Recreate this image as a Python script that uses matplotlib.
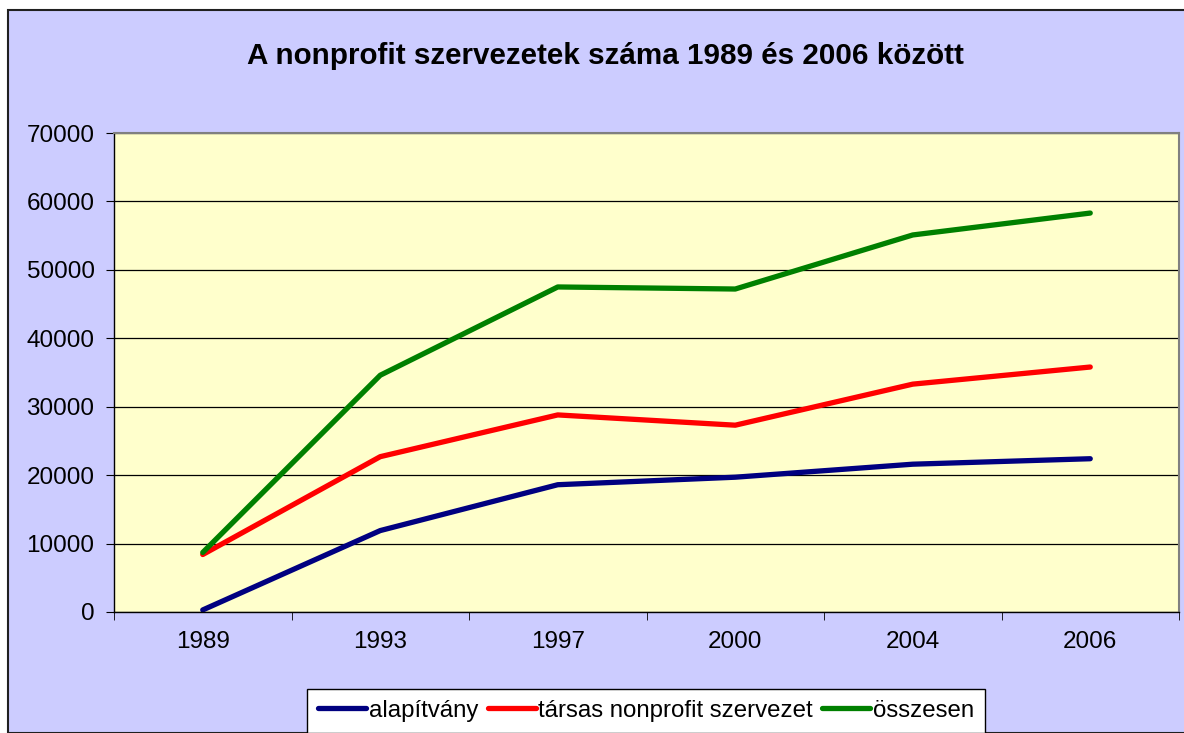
import numpy as np
import matplotlib
matplotlib.use("Agg")
import matplotlib.pyplot as plt
from matplotlib.patches import Rectangle

plt.rcParams['font.family'] = ['Liberation Sans', 'DejaVu Sans']

# adatok
evek = ['1989', '1993', '1997', '2000', '2004', '2006']
alapitvany = [300, 11900, 18600, 19700, 21600, 22400]
tarsas = [8400, 22700, 28800, 27300, 33300, 35800]
osszesen = [8700, 34600, 47500, 47200, 55100, 58300]

W, H = 1184, 733
fig = plt.figure(figsize=(W / 100, H / 100), dpi=100, facecolor='white')

# lila hatter kerettel
bg = Rectangle((8 / W, 0), 1 - 8 / W + 0.01, 1 - 10 / H, transform=fig.transFigure,
               facecolor='#CCCCFF', edgecolor='#202020', linewidth=1.5, zorder=-10)
fig.patches.append(bg)

ax = fig.add_axes([114 / W, (H - 612) / H, (1179 - 114) / W, (612 - 133) / H])
ax.set_facecolor('#FFFFCC')

x = np.arange(len(evek))
ax.plot(x, alapitvany, color='#000080', lw=3.8, label='alapítvány', solid_capstyle='round')
ax.plot(x, tarsas, color='#FF0000', lw=3.8, label='társas nonprofit szervezet', solid_capstyle='round')
ax.plot(x, osszesen, color='#008000', lw=3.8, label='összesen', solid_capstyle='round')

ax.set_xlim(-0.5, len(evek) - 0.5)
ax.set_ylim(0, 70000)
ax.set_yticks(np.arange(0, 70001, 10000))
ax.set_xticks(x)
ax.set_xticklabels(evek)
ax.set_xticks(np.arange(-0.5, len(evek), 1), minor=True)
ax.tick_params(axis='x', which='major', length=0, pad=14, labelsize=17.5)
ax.tick_params(axis='x', which='minor', length=6, direction='out', color='black')
ax.tick_params(axis='y', length=6, direction='out', labelsize=17.5, pad=8)
ax.grid(axis='y', color='black', lw=0.9)
ax.set_axisbelow(True)
for s in ['top', 'right']:
    ax.spines[s].set_color('#808080')
    ax.spines[s].set_linewidth(1.5)
for s in ['left', 'bottom']:
    ax.spines[s].set_color('black')
    ax.spines[s].set_linewidth(1)

fig.text(605 / W, 1 - 56 / H, 'A nonprofit szervezetek száma 1989 és 2006 között',
         ha='center', va='center', fontsize=21.3, fontweight='bold')

leg = fig.legend(loc='upper center', bbox_to_anchor=((308 + 984) / 2 / W, 1 - 689 / H),
                 ncol=3, fontsize=17.3, frameon=True, fancybox=False, edgecolor='black',
                 framealpha=1, handlelength=2.0, handletextpad=0.1, columnspacing=0.4,
                 borderpad=0.45, borderaxespad=0)
leg.get_frame().set_linewidth(1)

fig.savefig('out.png', dpi=100, facecolor='white')
